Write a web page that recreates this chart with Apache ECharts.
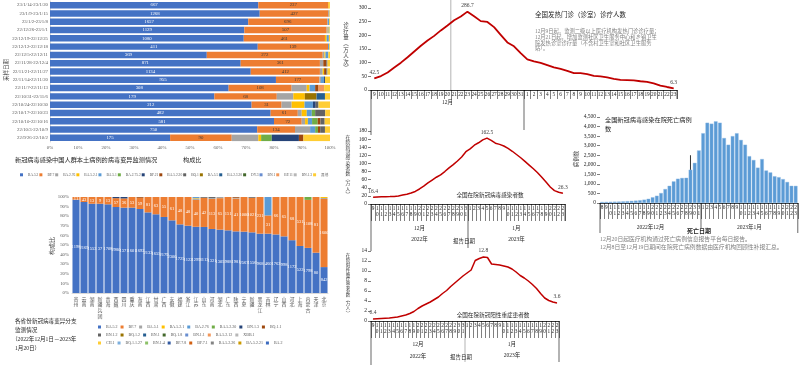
<!DOCTYPE html>
<html><head><meta charset="utf-8">
<script src="https://cdn.jsdelivr.net/npm/echarts@6/dist/echarts.min.js"></script>
<style>html,body{margin:0;padding:0;background:#fff}#c{width:800px;height:365px}</style>
</head><body><div id="c"></div>
<script>
// ================= DATA =================
// Panel 1: variant share by sampling week (percent)
const p1Dates = ['23/1/14-23/1/20','23/1/9-23/1/15','23/1/2-23/1/8','22/12/26-23/1/1','22/12/19-22/12/25','22/12/12-22/12/18','22/12/5-22/12/11','22/11/28-22/12/4','22/11/21-22/11/27','22/11/14-22/11/20','22/11/7-22/11/13','22/10/31-22/11/6','22/10/24-22/10/30','22/10/17-22/10/23','22/10/10-22/10/16','22/10/3-22/10/9','22/9/26-22/10/2'];
const p1Variants = ['BA.5.2','BF.7','BA.2.76','BA.5.2.1','BA.5.1','BA.2.75.2','BF.21','BA.5.2.20','BQ.1','BA.5.5','BA.2.3.20','DY.3','BN.1','BF.11','BN.1.3','其他'];
const p1_BA_5_2    = [74.4,74.9,70.8,69.4,69.2,74.2,56.0,68.1,71.7,80.7,63.8,58.7,72.0,78.8,80.0,74.0,42.9];
const p1_BF_7      = [25.0,24.6,28.2,29.4,29.0,25.1,41.4,28.3,24.7,15.5,22.5,22.3,10.7,9.7,9.9,13.5,22.0];
const p1_BA_2_76   = [0,0,0.3,0.4,0,0,0.6,1.2,1.0,0.6,5.4,5.9,3.6,1.4,1.2,5.4,9.5];
const p1_BA_5_2_1  = [0.3,0,0,0.3,0.6,0,0.4,0,0.5,0,1.0,4.1,4.6,1.8,1.0,0,1.0];
const p1_BA_5_1    = [0,0.3,0.4,0.3,0.8,0.4,1.0,0,0,1.0,2.0,0,3.0,1.8,1.5,1.8,0];
const p1_BA_2_75_2 = [0,0,0,0,0,0,0,0,0,0,0,0,0,1.2,2.0,1.0,3.8];
const p1_BF_21     = [0,0,0,0,0,0,0,0,0,0.4,0,0,1.0,0,0,0,9.7];
const p1_BA_5_2_20 = [0,0,0,0,0,0,0,1.1,0.8,0,1.2,0,0,0,1.0,0.8,1.6];
const p1_BQ_1      = [0,0,0,0,0,0,0,0.4,0.4,0,0,0,1.0,3.6,1.5,1.7,0];
const p1_BA_5_5    = [0,0,0,0,0,0,0,0,0,0,0,4.2,0,0,0,0,0];
const p1_BA_2_3_20 = [0,0,0,0,0,0,0,0,0,0,0,3.0,0,0,0,0,0];
const p1_DY_3      = [0,0,0,0,0,0,0,0,0,0,0,0,0,0,0,0,0];
const p1_BN_1      = [0,0,0,0,0,0,0,0,0,0,0,0,0,0,0,0,0];
const p1_BF_11     = [0,0,0,0,0,0,0,0,0,0,2.0,0,0,0,0,0,0];
const p1_BN_1_3    = [0,0,0,0,0,0,0,0,0,0,0,0,0,0,0,0,0];
const p1_other     = [0.3,0.2,0.3,0.2,0.4,0.3,0.6,0.9,0.9,1.8,2.1,1.8,4.1,1.7,1.9,1.8,9.5];
const p1CountBA52  = [667,1268,1657,1129,1080,411,369,871,1134,955,308,179,212,482,581,750,175];
const p1CountBF7   = [237,427,696,507,461,139,272,361,412,177,108,68,31,61,72,134,90];

// Panel 2: variant share by province (percent)
const p2Provinces = ['贵州','云南','湖南','新疆兵团','青海','西藏','四川','重庆','海南','江西','甘肃','广西','安徽','福建','浙江','江苏','山东','河南','湖北','广东','陕西','宁夏','新疆','黑龙江','吉林','辽宁','山西','河北','上海','内蒙古','天津','北京'];
const p2_BA_5_2   = [97.2,94.8,93,93,92.4,89.6,88.9,88.9,87.5,84,82,79.2,75.7,71.5,70.1,69,68.8,66.7,66,65.3,64.2,63.9,63.2,61.8,61.8,61,59,55,49,47,42,27];
const p2_BF_7     = [2.8,5.2,7,7,7.6,9.2,9.6,11.1,11.7,16,18,20.8,24.3,28.5,29.9,28.0,30.4,31.3,32.8,34.7,34.2,36.1,36.0,38.2,19.0,39,41,45,51,50,58,71];
const p2_BA_5_1   = [0,0,0,0,0,0,0,0,0,0,0,0,0,0,0,1.5,0,1.0,1.2,0,0.8,0,0,0,0,0,0,0,0,0,0,1.0];
const p2_BA_5_2_1 = [0,0,0,0,0,0,0,0,0,0,0,0,0,0,0,0.5,0,0,0,0,0,0,0,0,0,0,0,0,0,0,0,1.0];
const p2_BA_2_76  = [0,0,0,0,0,0,0,0,0,0,0,0,0,0,0,1.0,0,0,0,0,0,0,0,0,19.2,0,0,0,0,0,0,0];
const p2_BA_5_2_20= [0,0,0,0,0,0,0,0,0,0,0,0,0,0,0,0,0,0,0,0,0,0,0,0,0,0,0,0,0,3.0,0,0];
const p2_BN_1_3   = [0,0,0,0,0,1.2,1.5,0,0,0,0,0,0,0,0,0,0,0,0,0,0,0,0,0,0,0,0,0,0,0,0,0];
const p2_BQ_1_1   = [0,0,0,0,0,0,0,0,0.8,0,0,0,0,0,0,0,0,0,0,0,0.8,0,0,0,0,0,0,0,0,0,0,0];
const p2_BN_1_2   = [0,0,0,0,0,0,0,0,0,0,0,0,0,0,0,0,0.8,1.0,0,0,0,0,0.8,0,0,0,0,0,0,0,0,0];
const p2_small    = [0,0,0,0,0,0,0,0,0,0,0,0,0,0,0,0,0,0,0,0,0,0,0,0,0,0,0,0,0,0,0,0];
const p2Row1 = ['BA.5.2','BF.7','BA.5.1','BA.5.2.1','BA.2.76','BA.5.2.20','BN.1.3','BQ.1.1'];
const p2Row2 = ['BN.1.2','BQ.1.2','BN.1','BQ.1.8','BN.1.1','BA.5.2.12','XBB.1'];
const p2Row3 = ['CH.1','BQ.1.1.27','BN.1.4','BF.7.8','BF.7.1','BA.5.2.26','BA.5.2.21','BA.2'];
const p2CountBA52 = [1198,2169,1553,37,1708,2980,1371,1601,1692,2133,1655,2179,2300,1725,1122,1299,3113,1321,1305,988,1981,2567,1556,968,460,1763,998,1172,522,1798,80,842];
const p2CountBF7  = [11,43,13,9,13,57,36,53,59,81,63,55,61,48,48,40,42,113,65,151,41,1000,1021,231,31,66,65,68,531,1108,81,1600];

// Panels 3-5: daily reports
const repDates = ['12-09','12-10','12-11','12-12','12-13','12-14','12-15','12-16','12-17','12-18','12-19','12-20','12-21','12-22','12-23','12-24','12-25','12-26','12-27','12-28','12-29','12-30','12-31','01-01','01-02','01-03','01-04','01-05','01-06','01-07','01-08','01-09','01-10','01-11','01-12','01-13','01-14','01-15','01-16','01-17','01-18','01-19','01-20','01-21','01-22','01-23'];
const feverVisits = [42.5,51,64,82,100,120,141,162,181,198,218,236,255,269,286.7,270,252,249,230,202,174,160,135,112,105,99,91,83,77,70,62,62,58,52,50,46,41,37,36,35,32,30,24,16,11,6.3];
const inHospital  = [16.4,17.5,18,18,18.2,18.5,20,22,24,27,31,37,44,52,59,66,72,80,89,97,106,116,129,136,145,151,158,162.5,157,150,147,143,137,130,122,114,105,96,87,77,66,54,42,33,29,26.3];
const severeCases = [0.4,0.45,0.5,0.55,0.6,0.7,0.8,1.0,1.2,1.5,1.9,2.5,3.0,3.4,3.8,4.3,4.8,5.5,6.1,6.9,7.6,8.3,9.0,9.6,10.2,12.1,12.5,12.8,12.7,11.4,11.3,11.2,11.0,10.8,10.4,9.8,9.1,8.6,8.0,7.3,6.5,5.5,4.6,4.1,3.8,3.6];

// Panel 6: in-hospital deaths by date of death
const deathDates = ['12-08','12-09','12-10','12-11','12-12','12-13','12-14','12-15','12-16','12-17','12-18','12-19','12-20','12-21','12-22','12-23','12-24','12-25','12-26','12-27','12-28','12-29','12-30','12-31','01-01','01-02','01-03','01-04','01-05','01-06','01-07','01-08','01-09','01-10','01-11','01-12','01-13','01-14','01-15','01-16','01-17','01-18','01-19','01-20','01-21','01-22','01-23'];
const deaths = [55,60,65,70,75,85,95,110,125,145,175,220,300,380,520,730,900,1130,1270,1310,1320,1740,2100,2750,3650,4200,4150,4273,4200,3400,3050,3500,3650,3300,3050,2450,2250,1850,2300,1700,1600,1400,1350,1250,1100,900,896];

// ================= CHART =================
const FONT = '"Liberation Serif","Noto Sans CJK SC",serif';
const GRAY = '#595959';
const PAL = ['#4472C4','#ED7D31','#A5A5A5','#FFC000','#5B9BD5','#70AD47','#264478','#9E480E','#636363','#997300','#255E91','#43682B','#698ED0','#F1975A','#B7B7B7','#FFCD33','#7CAFDD','#8CC168','#335AA1','#D26012','#848484','#CC9A00','#3C6BBF'];
const ZW = '\u200b';

const chart = echarts.init(document.getElementById('c'));
const dayOf = v => String(parseInt(v.split('-')[1], 10));
const stackDay = v => { const d = dayOf(v); return d.length > 1 ? d[0] + '\n' + d[1] : d; };
const keyLabel = arr => { const mx = Math.max(...arr); const mi = arr.indexOf(mx);
  return p => (p.dataIndex === 0 || p.dataIndex === arr.length - 1 || p.dataIndex === mi) ? String(arr[p.dataIndex]) : ''; };

const p1Data = [p1_BA_5_2,p1_BF_7,p1_BA_2_76,p1_BA_5_2_1,p1_BA_5_1,p1_BA_2_75_2,p1_BF_21,p1_BA_5_2_20,p1_BQ_1,p1_BA_5_5,p1_BA_2_3_20,p1_DY_3,p1_BN_1,p1_BF_11,p1_BN_1_3,p1_other];
const p2Names = p2Row1.concat(p2Row2, p2Row3);
const p2Map = {'BA.5.2':p2_BA_5_2,'BF.7':p2_BF_7,'BA.5.1':p2_BA_5_1,'BA.5.2.1':p2_BA_5_2_1,'BA.2.76':p2_BA_2_76,'BA.5.2.20':p2_BA_5_2_20,'BN.1.3':p2_BN_1_3,'BQ.1.1':p2_BQ_1_1,'BN.1.2':p2_BN_1_2};

const series = [];
p1Variants.forEach((n, i) => {
  const s = {type:'bar', name:n, stack:'p1', xAxisIndex:0, yAxisIndex:0, data:p1Data[i],
    itemStyle:{color:PAL[i]}, barCategoryGap:'22%'};
  if (i < 2) s.label = {show:true, position:'inside', fontSize:4.8, fontFamily:FONT,
    color: i === 0 ? '#fff' : '#3a3a3a', formatter: p => (i === 0 ? p1CountBA52 : p1CountBF7)[p.dataIndex]};
  series.push(s);
});
p2Names.forEach((n, i) => {
  const s = {type:'bar', name:n + ZW, stack:'p2', xAxisIndex:1, yAxisIndex:1, data:p2Map[n] || p2_small,
    itemStyle:{color:PAL[i]}, barCategoryGap:'12%'};
  if (i < 2) s.label = {show:true, position:'inside', fontSize:4.5, fontFamily:FONT, color:'#fff',
    formatter: p => (i === 0 ? p2CountBA52 : p2CountBF7)[p.dataIndex]};
  series.push(s);
});
[[feverVisits,2,1.8],[inHospital,3,1.5],[severeCases,4,1.5]].forEach(([arr, k, w]) => {
  series.push({type:'line', xAxisIndex:k, yAxisIndex:k, data:arr, symbol:'circle', symbolSize:0.5, showSymbol:true,
    itemStyle:{color:'#C00000'}, lineStyle:{color:'#C00000', width:w},
    label:{show:true, position:'top', distance:3, fontSize:5.5, fontFamily:FONT, color:'#404040', formatter:keyLabel(arr)}});
});
series.push({type:'bar', xAxisIndex:5, yAxisIndex:5, data:deaths, itemStyle:{color:'#5B9BD5', borderColor:'#8FBCE6', borderWidth:0.4}, barCategoryGap:'14%'});

const lineX = (k, data, tickLen, stacked) => ({type:'category', gridIndex:k, data:data,
  axisLine:{show:true, lineStyle:{color:'#000', width:0.8}},
  axisTick:{show:true, interval:0, length:tickLen, lineStyle:{color:'#000', width:0.5}},
  axisLabel:{interval:0, fontSize:5.3, fontFamily:FONT, color:'#262626', margin:2, lineHeight:6, formatter: stacked ? stackDay : dayOf}});
const lineY = (k, max, iv) => ({type:'value', gridIndex:k, min:0, max:max, interval:iv,
  splitLine:{show:false}, axisLine:{show:false},
  axisTick:{show:true, length:3, lineStyle:{color:'#000', width:0.5}},
  axisLabel:{fontSize:5.5, fontFamily:FONT, color:'#262626', margin:4}});

const option = {
  animation:false,
  textStyle:{fontFamily:FONT},
  grid:[
    {left:50, top:1, width:280, height:141},
    {left:72, top:197, width:256, height:96},
    {left:371, top:8, width:306, height:82},
    {left:371, top:131, width:194, height:73},
    {left:371, top:251, width:188, height:70},
    {left:600, top:117, width:198, height:86}
  ],
  xAxis:[
    {type:'value', gridIndex:0, min:0, max:100, interval:10, splitLine:{show:false}, axisLine:{show:false}, axisTick:{show:false},
      axisLabel:{formatter:'{value}%', fontSize:4.8, color:GRAY, margin:3}},
    {type:'category', gridIndex:1, data:p2Provinces, axisLine:{show:true, lineStyle:{color:'#D9D9D9'}}, axisTick:{show:false},
      axisLabel:{interval:0, fontSize:5, color:GRAY, margin:3, lineHeight:5.6, fontFamily:'"Noto Sans CJK SC"', formatter: v => v.split('').join('\n')}},
    lineX(2, repDates, 9, false),
    lineX(3, repDates, 17, true),
    lineX(4, repDates, 17, true),
    lineX(5, deathDates, 16, true)
  ],
  yAxis:[
    {type:'category', gridIndex:0, data:p1Dates, inverse:true, axisLine:{show:true, lineStyle:{color:'#D9D9D9'}}, axisTick:{show:false},
      axisLabel:{fontSize:4.8, color:GRAY, margin:2}},
    {type:'value', gridIndex:1, min:0, max:100, interval:10, splitLine:{show:false}, axisLabel:{formatter:'{value}%', fontSize:4.8, color:GRAY, margin:3}},
    lineY(2, 300, 50),
    lineY(3, 180, 20),
    lineY(4, 14, 2),
    lineY(5, 4500, 500)
  ],
  legend:[
    {left:15, top:168, itemWidth:3, itemHeight:3, itemGap:1, icon:'rect', data:p1Variants, textStyle:{fontSize:3.6, color:GRAY}},
    {left:93, top:320, itemWidth:3, itemHeight:3, itemGap:3, icon:'rect', data:p2Row1.map(n => n + ZW), textStyle:{fontSize:4, color:GRAY}},
    {left:93, top:328, itemWidth:3, itemHeight:3, itemGap:3, icon:'rect', data:p2Row2.map(n => n + ZW), textStyle:{fontSize:4, color:GRAY}},
    {left:93, top:336, itemWidth:3, itemHeight:3, itemGap:3, icon:'rect', data:p2Row3.map(n => n + ZW), textStyle:{fontSize:4, color:GRAY}}
  ],
  series: series
};
chart.setOption(option);

// ========== annotations, titles and multi-level axis decorations ==========
const G = [];
const txt = (x, y, s, o) => G.push(Object.assign({type:'text', x:x, y:y, silent:true,
  style:Object.assign({text:s, fill:'#262626', fontSize:6, fontFamily:FONT, align:'left', verticalAlign:'middle'}, (o && o.style) || {})},
  (o && o.rotation) ? {rotation:o.rotation} : {}));
const vline = (x, y1, y2, c, w) => G.push({type:'line', silent:true, shape:{x1:x, y1:y1, x2:x, y2:y2}, style:{stroke:c || '#000', lineWidth:w || 0.6}});
const vertical = s => s.split('').join('\n');

// panel 1 & 2 texts
txt(7, 70, '采样日期', {rotation:Math.PI/2, style:{align:'center', fontSize:5.5, fill:'#404040'}});
txt(15, 160, '新冠病毒感染中国人群本土病例的病毒变异监测情况', {style:{fontSize:6.2}});
txt(183, 160, '构成比', {style:{fontSize:6.2}});
txt(52, 246, '构成比', {rotation:Math.PI/2, style:{align:'center', fontSize:6, fill:'#404040'}});
txt(15, 322, '各省份新冠病毒变异分支', {style:{fontSize:5.6}});
txt(15, 331, '监测情况', {style:{fontSize:5.6}});
txt(12, 340, '（2022年12月1日－2023年', {style:{fontSize:5.6}});
txt(15, 349, '1月20日）', {style:{fontSize:5.6}});

// panel 3 texts
txt(535, 15, '全国发热门诊（诊室）诊疗人数', {style:{fontSize:6.5}});
['12月9日起，监测二级以上医疗机构发热门诊诊疗量；','12月21日起，增加监测社区卫生服务中心和乡镇卫生','院发热诊室诊疗量（不含村卫生室和社区卫生服务','站）。']
  .forEach((s, i) => txt(535, 32 + i * 5.7, s, {style:{fontSize:5.3, fill:'#7F7F7F'}}));
txt(346, 47, vertical('诊疗量︵万人次︶'), {style:{align:'center', fontSize:5.5, lineHeight:6.2, fill:'#404040'}});
txt(348, 166, vertical('在院新冠感染者数︵万人︶'), {style:{align:'center', fontSize:4.8, lineHeight:5.2, fill:'#404040'}});
txt(348, 285, vertical('在院阳性重症患者数︵万人︶'), {style:{align:'center', fontSize:4.5, lineHeight:4.8, fill:'#404040'}});
txt(490, 196, '全国在院新冠病毒感染者数', {style:{align:'center', fontSize:5.6}});
txt(493, 316, '全国在院新冠阳性重症患者数', {style:{align:'center', fontSize:5.6}});

// panel 6 texts
txt(605, 120, '全国新冠病毒感染在院死亡病例', {style:{fontSize:6.2}});
txt(605, 129, '数', {style:{fontSize:6.2}});
txt(577, 159, '病例数', {rotation:Math.PI/2, style:{align:'center', fontSize:5.5, fill:'#404040'}});
txt(600, 239, '12月20日起医疗机构通过死亡病例信息报告平台每日报告。', {style:{fontSize:5.8, fill:'#7F7F7F'}});
txt(600, 247, '12月8日至12月19日期间在院死亡病例数据由医疗机构回顾性补报汇总。', {style:{fontSize:5.8, fill:'#7F7F7F'}});

// multi-level axes computed from the axes themselves
function axisGeom(k, n, splitIdx) {
  const c0 = chart.convertToPixel({xAxisIndex:k}, 0), c1 = chart.convertToPixel({xAxisIndex:k}, 1);
  const w = c1 - c0;
  const cn = chart.convertToPixel({xAxisIndex:k}, n - 1);
  const y0 = chart.convertToPixel({yAxisIndex:k}, 0);
  const left = c0 - w / 2, right = cn + w / 2;
  const split = (chart.convertToPixel({xAxisIndex:k}, splitIdx - 1) + chart.convertToPixel({xAxisIndex:k}, splitIdx)) / 2;
  return {w, left, right, split, y0, decC:(left + split) / 2, janC:(split + right) / 2, mid:(left + right) / 2};
}
// panel 3
let a = axisGeom(2, repDates.length, repDates.indexOf('01-01'));
vline(a.left, a.y0, a.y0 + 45);
vline(a.split, a.y0, a.y0 + 40);
vline(a.right, a.y0, a.y0 + 9);
const d21 = repDates.indexOf('12-21');
const x21 = (chart.convertToPixel({xAxisIndex:2}, d21 - 1) + chart.convertToPixel({xAxisIndex:2}, d21)) / 2;
vline(x21, 0, a.y0, '#7F7F7F', 0.6);
txt(a.decC, a.y0 + 13, '12月', {style:{align:'center', fontSize:5.5}});
// panel 4
a = axisGeom(3, repDates.length, repDates.indexOf('01-01'));
vline(a.left, a.y0, a.y0 + 47);
vline(a.split, a.y0, a.y0 + 44);
vline(a.right, a.y0, a.y0 + 17);
txt(a.decC, a.y0 + 25, '12月', {style:{align:'center', fontSize:5.5}});
txt(a.janC, a.y0 + 25, '1月', {style:{align:'center', fontSize:5.5}});
txt(a.decC, a.y0 + 36, '2022年', {style:{align:'center', fontSize:5.5}});
txt(a.janC, a.y0 + 36, '2023年', {style:{align:'center', fontSize:5.5}});
txt(a.mid - 4, a.y0 + 38, '报告日期', {style:{align:'center', fontSize:5.5}});
// panel 5
a = axisGeom(4, repDates.length, repDates.indexOf('01-01'));
vline(a.left, a.y0, 365);
vline(a.split, a.y0, a.y0 + 41, '#7F7F7F');
vline(a.right, a.y0, a.y0 + 41);
txt(a.decC, a.y0 + 24, '12月', {style:{align:'center', fontSize:5.5}});
txt(a.janC, a.y0 + 24, '1月', {style:{align:'center', fontSize:5.5}});
txt(a.decC, a.y0 + 36, '2022年', {style:{align:'center', fontSize:5.5}});
txt(a.janC, a.y0 + 35, '2023年', {style:{align:'center', fontSize:5.5}});
txt(a.mid - 4, a.y0 + 37, '报告日期', {style:{align:'center', fontSize:5.5}});
// panel 6
a = axisGeom(5, deathDates.length, deathDates.indexOf('01-01'));
vline(a.left, a.y0, a.y0 + 30);
vline(a.split, a.y0, a.y0 + 25);
vline(a.right, a.y0, a.y0 + 30);
const xm = chart.convertToPixel({xAxisIndex:5}, deathDates.indexOf('12-29'));
vline(xm, chart.convertToPixel({yAxisIndex:5}, 2500), a.y0, '#000', 0.8);
txt(a.decC, a.y0 + 25, '2022年12月', {style:{align:'center', fontSize:5.5}});
txt(a.janC, a.y0 + 25, '2023年1月', {style:{align:'center', fontSize:5.5}});
txt(a.mid, a.y0 + 28, '死亡日期', {style:{align:'center', fontSize:6, fontWeight:'bold'}});

chart.setOption({graphic:G});
</script></body></html>
